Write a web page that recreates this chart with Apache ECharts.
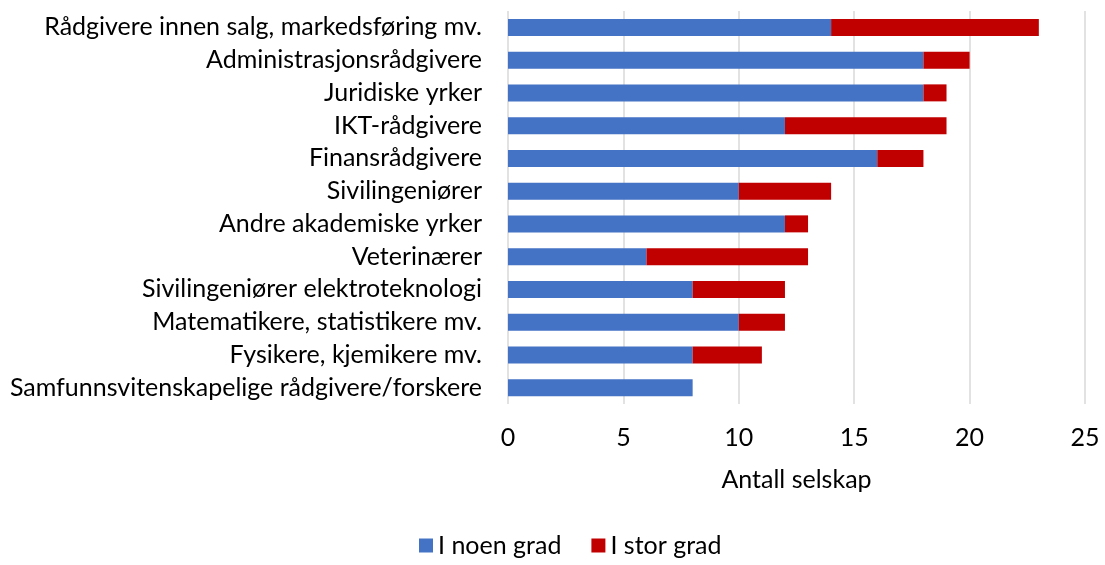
<!DOCTYPE html>
<html>
<head>
<meta charset="utf-8">
<script src="https://cdn.jsdelivr.net/npm/echarts@6/dist/echarts.min.js"></script>
<style>
  html, body { margin: 0; padding: 0; background: #fff; }
  #chart { width: 1105px; height: 565px; }
</style>
</head>
<body>
<div id="chart"></div>
<script>
const categories = [
  'Rådgivere innen salg, markedsføring mv.',
  'Administrasjonsrådgivere',
  'Juridiske yrker',
  'IKT-rådgivere',
  'Finansrådgivere',
  'Sivilingeniører',
  'Andre akademiske yrker',
  'Veterinærer',
  'Sivilingeniører elektroteknologi',
  'Matematikere, statistikere mv.',
  'Fysikere, kjemikere mv.',
  'Samfunnsvitenskapelige rådgivere/forskere'
]
const noenGrad = [14, 18, 18, 12, 16, 10, 12, 6, 8, 10, 8, 8]
const storGrad = [9, 2, 1, 7, 2, 4, 1, 7, 4, 2, 3, 0]

const font = 'Lato, Calibri, sans-serif'
const fontSize = 25
const chart = echarts.init(document.getElementById('chart'))

chart.setOption({
  animation: false,
  textStyle: { fontFamily: font },
  grid: { left: 508, right: 20, top: 11, bottom: 161 },
  legend: {
    bottom: 2,
    left: 414,
    itemWidth: 14,
    itemHeight: 14,
    itemGap: 30,
    icon: 'rect',
    textStyle: { fontSize: fontSize, color: '#000', fontFamily: font },
    data: ['I noen grad', 'I stor grad']
  },
  xAxis: {
    type: 'value',
    min: 0,
    max: 25,
    interval: 5,
    name: 'Antall selskap',
    nameLocation: 'middle',
    nameGap: 63,
    nameTextStyle: { fontSize: fontSize, color: '#000', fontFamily: font },
    axisLine: { show: false },
    axisTick: { show: false },
    axisLabel: { fontSize: fontSize, color: '#000', margin: 21, fontFamily: font },
    splitLine: { lineStyle: { color: '#d9d9d9', width: 1.5 } }
  },
  yAxis: {
    type: 'category',
    inverse: true,
    data: categories,
    axisLine: { show: false },
    axisTick: { show: false },
    axisLabel: { fontSize: fontSize, color: '#000', margin: 26, fontFamily: font }
  },
  series: [
    {
      name: 'I noen grad',
      type: 'bar',
      stack: 'total',
      barWidth: 17,
      itemStyle: { color: '#4472c4' },
      data: noenGrad
    },
    {
      name: 'I stor grad',
      type: 'bar',
      stack: 'total',
      barWidth: 17,
      itemStyle: { color: '#c00000' },
      data: storGrad
    }
  ]
})
</script>
</body>
</html>
